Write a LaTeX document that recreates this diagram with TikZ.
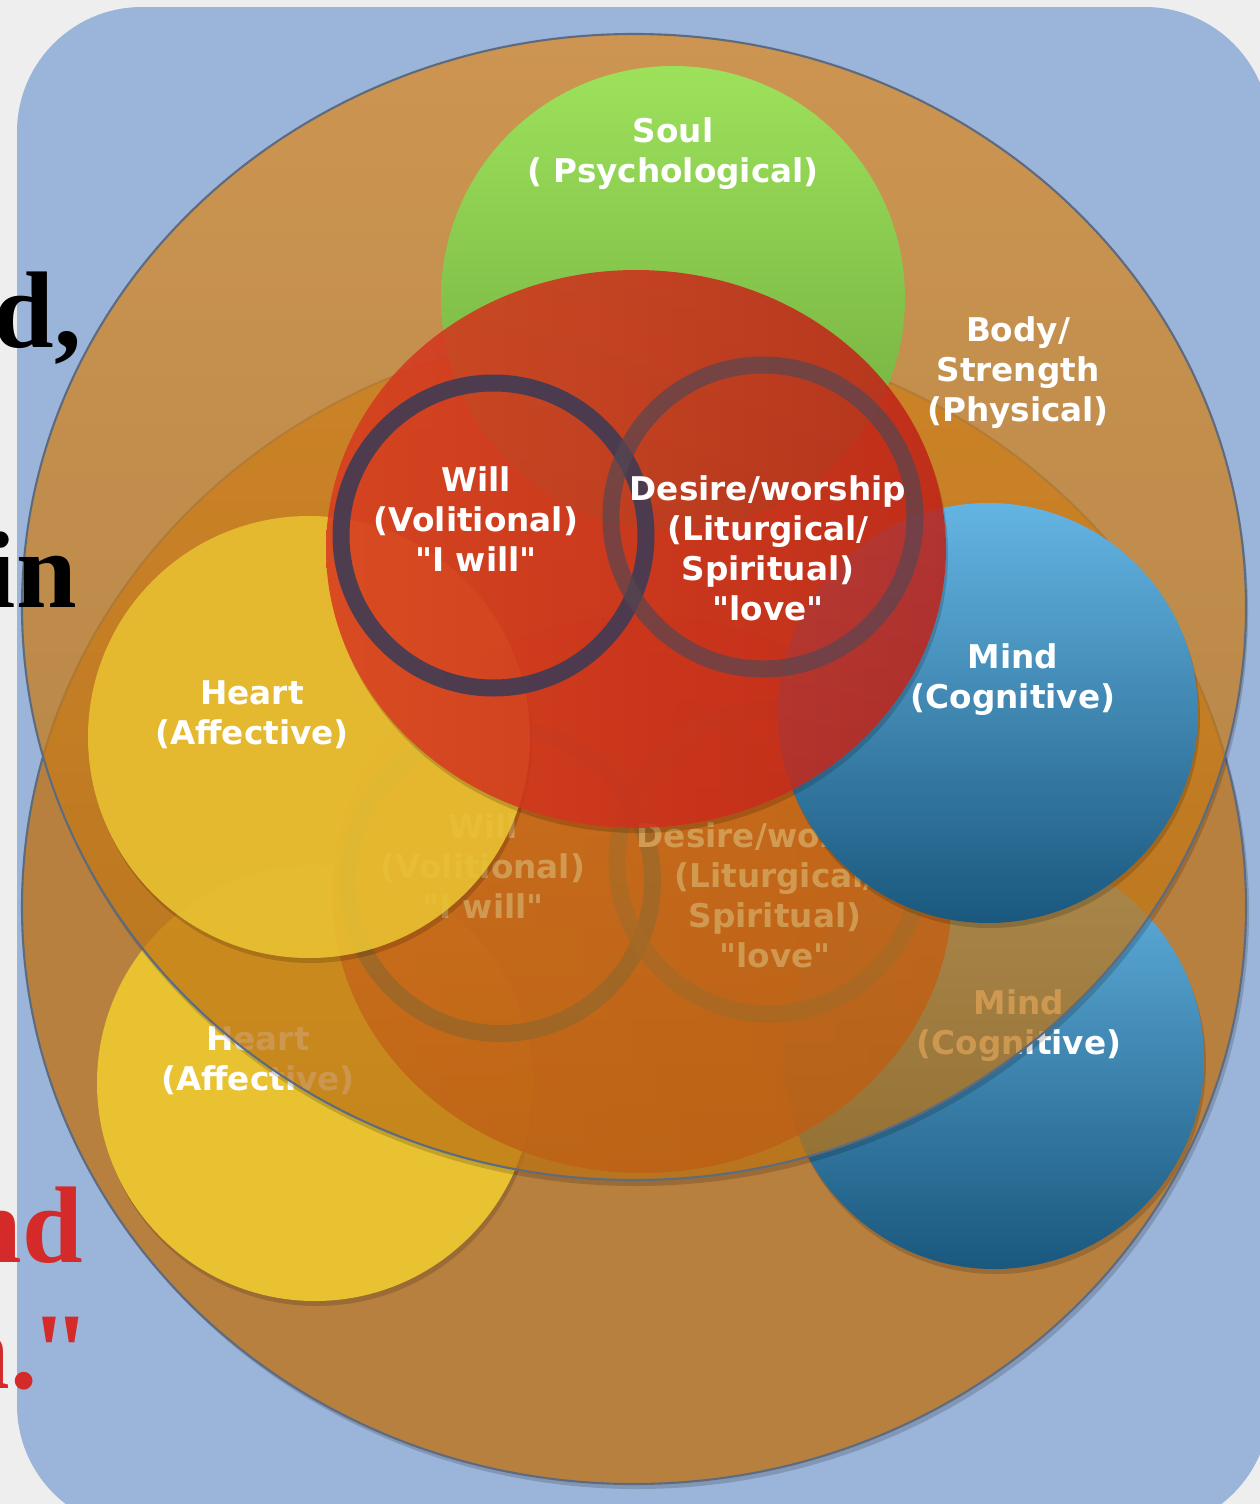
\documentclass[tikz,border=0pt]{standalone}
\usepackage{fontspec}
\newfontfamily\labelfont{DejaVu Sans}
\newfontfamily\slidefont{Liberation Serif}

\definecolor{paper}{HTML}{EEEEEE}
\definecolor{slate}{HTML}{9BB4D9}
\definecolor{rimgray}{HTML}{5E6B7F}
\definecolor{bodylow}{HTML}{B8803F}
\definecolor{bodytop}{HTML}{DE8B24}
\definecolor{bodybot}{HTML}{B87214}
\definecolor{soultop}{HTML}{9DE15B}
\definecolor{soulbot}{HTML}{6CA63B}
\definecolor{heartfill}{HTML}{E9C232}
\definecolor{mindtop}{HTML}{64B4E3}
\definecolor{mindbot}{HTML}{1A587E}
\definecolor{coreleft}{HTML}{D83C20}
\definecolor{coreright}{HTML}{BE2218}
\definecolor{willring}{HTML}{403B54}
\definecolor{lovering}{HTML}{574650}
\definecolor{slidered}{HTML}{D42A2A}

\begin{document}
\begin{tikzpicture}[scale=0.2]
        \tikzstyle{every node}+=[inner sep=0pt]
        \tikzset{
          lbl/.style={align=center, text=white,
            font=\labelfont\bfseries\fontsize{18.6}{22.8}\selectfont},
          slide/.style={anchor=base east,
            font=\slidefont\bfseries\fontsize{62}{70}\selectfont},
          rim/.style={draw=rimgray, line width=1.2pt},
          ringline/.style={line width=0.34cm},
          dropshade/.style={fill=black, fill opacity=0.16}
        }
        \useasboundingbox (0,0) rectangle (126,-150.4);
        \fill [paper] (0,0) rectangle (126,-150.4);
        \fill [slate, rounded corners=2.5cm] (1.7,-0.7) rectangle (127,-153);
        % lower copy
        \fill [dropshade] (63.7,-91.2) ellipse (61.2 and 57.7);
        \fill [bodylow] (63.4,-90.7) ellipse (61.2 and 57.7);
        \draw [rim] (63.4,-90.7) ellipse (61.2 and 57.7);
        \fill [dropshade] (31.7,-108.8) circle (21.8);
        \fill [heartfill] (31.5,-108.3) circle (21.8);
        \fill [dropshade] (99.6,-106.4) circle (21);
        \shade [top color=mindtop, bottom color=mindbot] (99.4,-105.9) circle (21);
        \shade [left color=coreleft, right color=coreright, fill opacity=0.87] (64.2,-89.4) ellipse (31 and 27.9);
        \draw [willring, ringline, opacity=0.9] (50,-88.1) circle (15.25);
        \draw [lovering, ringline, opacity=0.7] (76.9,-86.2) circle (15.2);
        \node [lbl] (willlow) at (48.3,-86.6) {Will\\(Volitional)\\"I will"};
        \node [lbl] (lovelow) at (77.5,-89.5) {Desire/worship\\(Liturgical/\\Spiritual)\\"love"};
        \node [lbl] (heartlow) at (25.8,-106.1) {Heart\\(Affective)};
        \node [lbl] (mindlow) at (101.9,-102.6) {Mind\\(Cognitive)};
        % upper copy
        \begin{scope}[even odd rule]
          \clip (0,0) rectangle (126,-150.4) (63.4,-60.7) ellipse (61.2 and 57.3);
          \fill [dropshade] (63.6,-61.3) ellipse (61.2 and 57.3);
        \end{scope}
        \shade [top color=bodytop, bottom color=bodybot, fill opacity=0.75] (63.4,-60.7) ellipse (61.2 and 57.3);
        \draw [rim] (63.4,-60.7) ellipse (61.2 and 57.3);
        \shade [top color=soultop, bottom color=soulbot] (67.3,-29.8) circle (23.2);
        \begin{scope}[even odd rule]
          \clip (0,0) rectangle (126,-150.4) (30.9,-73.7) circle (22.1);
          \fill [dropshade] (31.1,-74.2) circle (22.1);
        \end{scope}
        \fill [heartfill, fill opacity=0.88] (30.9,-73.7) circle (22.1);
        \fill [dropshade] (99,-71.8) circle (21);
        \shade [top color=mindtop, bottom color=mindbot] (98.8,-71.3) circle (21);
        \begin{scope}[even odd rule]
          \clip (0,0) rectangle (126,-150.4) (63.6,-54.9) ellipse (31 and 27.9);
          \fill [dropshade] (63.8,-55.4) ellipse (31 and 27.9);
        \end{scope}
        \shade [left color=coreleft, right color=coreright, fill opacity=0.87] (63.6,-54.9) ellipse (31 and 27.9);
        \draw [willring, ringline, opacity=0.9] (49.35,-53.55) circle (15.25);
        \draw [lovering, ringline, opacity=0.7] (76.3,-51.7) circle (15.2);
        \node [lbl] (soul) at (67.3,-15.4) {Soul\\( Psychological)};
        \node [lbl] (body) at (101.8,-37.3) {Body/\\Strength\\(Physical)};
        \node [lbl] (will) at (47.6,-51.9) {Will\\(Volitional)\\"I will"};
        \node [lbl] (love) at (76.8,-54.8) {Desire/worship\\(Liturgical/\\Spiritual)\\"love"};
        \node [lbl] (heart) at (25.2,-71.5) {Heart\\(Affective)};
        \node [lbl] (mind) at (101.3,-68) {Mind\\(Cognitive)};
        % slide text cut by the frame
        \node [slide] (wordd) at (8.2,-34.7) {d,};
        \node [slide] (wordin) at (7.7,-60.7) {in};
        \node [slide, text=slidered] (wordnd) at (8.3,-126.2) {nd};
        \node [slide, text=slidered] (wordend) at (9.1,-138.8) {h.\kern-0.07em"};
\end{tikzpicture}
\end{document}
